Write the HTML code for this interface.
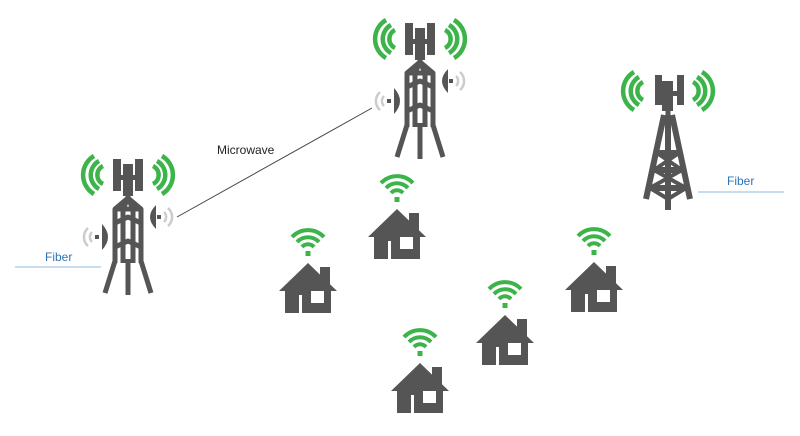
<!DOCTYPE html>
<html><head><meta charset="utf-8"><style>
html,body{margin:0;padding:0;background:#fff;}
svg{display:block;}
text{font-family:"Liberation Sans",sans-serif;}
</style></head><body>
<svg width="800" height="436" viewBox="0 0 800 436" xmlns="http://www.w3.org/2000/svg">
<defs>
<g id="wifi">
  <rect x="-2.5" y="-12" width="5" height="5" fill="#3cb44a"/>
  <g fill="none" stroke="#3cb44a" stroke-width="4" stroke-linecap="butt">
    <path d="M-6,-16 A8,8 0 0 1 6,-16"/>
    <path d="M-11,-21 A15,15 0 0 1 11,-21"/>
    <path d="M-16,-26 A22,22 0 0 1 16,-26"/>
  </g>
</g>
<g id="house">
  <use href="#wifi"/>
  <polygon points="-29,28 0,0 29,28" fill="#555"/>
  <rect x="12" y="4" width="10" height="20" fill="#555"/>
  <rect x="-23" y="26" width="46" height="24" fill="#555"/>
  <rect x="3" y="28" width="13" height="12" fill="#fff"/>
  <rect x="-9" y="32" width="3" height="18" fill="#fff"/>
</g>
<g id="greenarcs" fill="none" stroke="#3cb44a" stroke-width="4.5">
  <path d="M-25,7 A10,10 0 0 0 -25,25"/>
  <path d="M-29,2 A16,16 0 0 0 -29,30"/>
  <path d="M-34,-3 A22,22 0 0 0 -34,35"/>
  <path d="M25,7 A10,10 0 0 1 25,25"/>
  <path d="M29,2 A16,16 0 0 1 29,30"/>
  <path d="M34,-3 A22,22 0 0 1 34,35"/>
</g>
<g id="tower">
  <use href="#greenarcs"/>
  <rect x="-15" y="0" width="8" height="32" fill="#555"/>
  <rect x="7" y="0" width="8" height="32" fill="#555"/>
  <rect x="-5" y="5" width="10" height="32" fill="#555"/>
  <rect x="-9" y="16" width="18" height="5" fill="#555"/>
  <rect x="-2.5" y="36" width="5" height="6" fill="#555"/>
  <g fill="none" stroke="#555" stroke-width="5" stroke-linejoin="round">
    <path d="M-13,104 L-13,50 L0,39 L13,50 L13,104"/>
    <path d="M-13,50 L13,50"/>
    <path d="M-5,50 L-5,104 M5,50 L5,104"/>
    <path d="M0,39 L-5,50 M0,39 L5,50"/>
    <path d="M-13,64 L0,58 L13,64"/>
    <path d="M-13,88 L0,82 L13,88"/>
    <path d="M-13,102 L-23,134 M13,102 L23,134 M0,100 L0,136"/>
  </g>
  <path d="M28,46 Q16,58 28,70 Z" fill="#555"/>
  <rect x="29" y="56" width="4" height="4" fill="#555"/>
  <g fill="none" stroke="#ccc" stroke-width="2.5">
    <path d="M36,53 A7,7 0 0 1 36,63"/>
    <path d="M40,49 A12,12 0 0 1 40,67"/>
  </g>
  <path d="M-26,65 Q-14,78 -26,91 Z" fill="#555"/>
  <rect x="-33" y="76" width="4" height="4" fill="#555"/>
  <g fill="none" stroke="#ccc" stroke-width="2.5">
    <path d="M-36,73 A7,7 0 0 0 -36,83"/>
    <path d="M-40,69 A12,12 0 0 0 -40,87"/>
  </g>
</g>
</defs>

<use href="#tower" transform="translate(128,159)"/>
<use href="#tower" transform="translate(420,23)"/>

<!-- tower 3 -->
<g transform="translate(668,75)">
  <use href="#greenarcs"/>
  <rect x="-13" y="0" width="7" height="30" fill="#555"/>
  <rect x="9" y="0" width="7" height="30" fill="#555"/>
  <rect x="-6" y="6" width="11" height="30" fill="#555"/>
  <rect x="-8" y="16" width="18" height="5" fill="#555"/>
  <rect x="-2.5" y="36" width="5" height="6" fill="#555"/>
  <g fill="none" stroke="#555" stroke-width="6" stroke-linejoin="round">
    <path d="M-4,40 L-22,124 M4,40 L22,124"/>
    <path d="M0,40 L0,135"/>
    <path d="M-11,78 L11,78 M-14,95 L14,95 M-18,113 L18,113"/>
  </g>
  <g fill="none" stroke="#555" stroke-width="4" stroke-linejoin="round">
    <path d="M-11,78 L14,95 M11,78 L-14,95 M-14,95 L18,113 M14,95 L-18,113 M-18,113 L0,124 L18,113"/>
  </g>
</g>

<line x1="177" y1="217" x2="372" y2="108" stroke="#444" stroke-width="1"/>
<text x="217" y="154" font-size="12" fill="#222">Microwave</text>

<line x1="15" y1="267" x2="101" y2="267" stroke="#8fb8de" stroke-width="1"/>
<text x="45" y="261" font-size="12" fill="#2e75b6">Fiber</text>
<line x1="698" y1="192" x2="784" y2="192" stroke="#8fb8de" stroke-width="1"/>
<text x="727" y="185" font-size="12" fill="#2e75b6">Fiber</text>

<use href="#house" transform="translate(308,263)"/>
<use href="#house" transform="translate(397,209)"/>
<use href="#house" transform="translate(594,262)"/>
<use href="#house" transform="translate(505,315)"/>
<use href="#house" transform="translate(420,363)"/>
</svg>
</body></html>
